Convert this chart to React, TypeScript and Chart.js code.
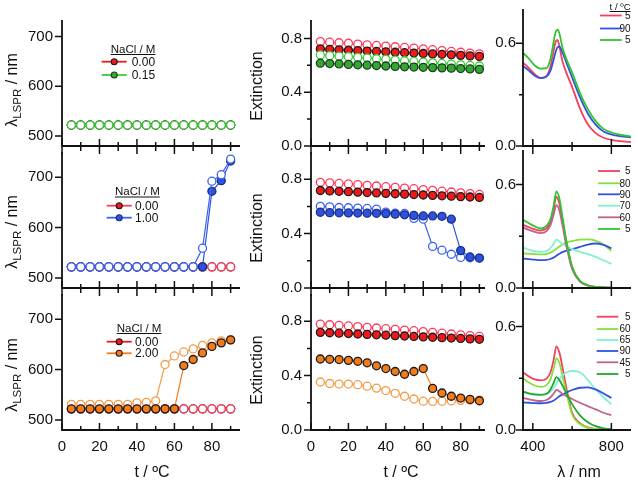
import React, { useEffect, useRef } from 'react';
import { Chart, registerables } from 'chart.js';

Chart.register(...registerables);

const FONT = "'Liberation Sans', Arial, Helvetica, sans-serif";
const INK = '#111111';

// ---------- temperatures (°C)
const TEMPS = [5, 10, 15, 20, 25, 30, 35, 40, 45, 50, 55, 60, 65, 70, 75, 80, 85, 90];

// ---------- λLSPR (nm), row A: 0.00 / 0.15 M NaCl
const LSPR_A_REF_FILLED = [522, 522, 522, 522, 522, 522, 522, 522, 522, 522, 522, 522, 522, 522, 522, 522, 522, 522];
const LSPR_A_REF_OPEN = [522, 522, 522, 522, 522, 522, 522, 522, 522, 522, 522, 522, 522, 522, 522, 522, 522, 522];
const LSPR_A_SALT_FILLED = [522, 522, 522, 522, 522, 522, 522, 522, 522, 522, 522, 522, 522, 522, 522, 522, 522, 522];
const LSPR_A_SALT_OPEN = [522, 522, 522, 522, 522, 522, 522, 522, 522, 522, 522, 522, 522, 522, 522, 522, 522, 522];
// row B: 0.00 / 1.00 M
const LSPR_B_REF_FILLED = [522, 522, 522, 522, 522, 522, 522, 522, 522, 522, 522, 522, 522, 522, 522, 522, 522, 522];
const LSPR_B_REF_OPEN = [522, 522, 522, 522, 522, 522, 522, 522, 522, 522, 522, 522, 522, 522, 522, 522, 522, 522];
const LSPR_B_SALT_FILLED = [522, 522, 522, 522, 522, 522, 522, 522, 522, 522, 522, 522, 522, 522, 522, 672, 693, 732];
const LSPR_B_SALT_OPEN = [522, 522, 522, 522, 522, 522, 522, 522, 522, 522, 522, 522, 522, 522, 559, 692, 705, 736];
// row C: 0.00 / 2.00 M
const LSPR_C_REF_FILLED = [522, 522, 522, 522, 522, 522, 522, 522, 522, 522, 522, 522, 522, 522, 522, 522, 522, 522];
const LSPR_C_REF_OPEN = [522, 522, 522, 522, 522, 522, 522, 522, 522, 522, 522, 522, 522, 522, 522, 522, 522, 522];
const LSPR_C_SALT_FILLED = [522, 522, 522, 522, 522, 522, 522, 522, 522, 522, 522, 522, 608, 620, 633, 646, 653, 659];
const LSPR_C_SALT_OPEN = [531, 531, 531, 531, 531, 531, 531, 534, 535, 538, 610, 627, 635, 641, 648, 653, 657, 659];

// ---------- Extinction
const EXT_A_REF_OPEN = [0.776, 0.772, 0.768, 0.764, 0.758, 0.752, 0.748, 0.743, 0.738, 0.733, 0.728, 0.722, 0.716, 0.71, 0.703, 0.697, 0.691, 0.685];
const EXT_A_REF_FILLED = [0.722, 0.718, 0.715, 0.712, 0.709, 0.706, 0.703, 0.7, 0.697, 0.694, 0.691, 0.688, 0.685, 0.682, 0.678, 0.674, 0.67, 0.666];
const EXT_A_SALT_OPEN = [0.677, 0.672, 0.668, 0.664, 0.659, 0.654, 0.649, 0.644, 0.639, 0.634, 0.629, 0.624, 0.619, 0.614, 0.609, 0.604, 0.599, 0.595];
const EXT_A_SALT_FILLED = [0.616, 0.613, 0.61, 0.607, 0.604, 0.601, 0.598, 0.595, 0.592, 0.589, 0.587, 0.585, 0.583, 0.581, 0.579, 0.576, 0.573, 0.57];

const EXT_B_REF_OPEN = [0.777, 0.773, 0.769, 0.765, 0.76, 0.755, 0.75, 0.745, 0.74, 0.735, 0.73, 0.724, 0.718, 0.712, 0.706, 0.7, 0.694, 0.688];
const EXT_B_REF_FILLED = [0.717, 0.714, 0.711, 0.708, 0.705, 0.702, 0.699, 0.696, 0.693, 0.69, 0.687, 0.684, 0.681, 0.678, 0.675, 0.672, 0.669, 0.666];
const EXT_B_SALT_OPEN = [0.6, 0.597, 0.592, 0.59, 0.588, 0.585, 0.58, 0.558, 0.55, 0.548, 0.512, 0.506, 0.306, 0.278, 0.248, 0.225, 0.222, 0.22];
const EXT_B_SALT_FILLED = [0.557, 0.554, 0.553, 0.552, 0.551, 0.55, 0.549, 0.547, 0.543, 0.538, 0.534, 0.53, 0.53, 0.527, 0.506, 0.275, 0.228, 0.22];

const EXT_C_REF_OPEN = [0.778, 0.774, 0.77, 0.765, 0.76, 0.755, 0.75, 0.745, 0.74, 0.735, 0.73, 0.724, 0.718, 0.712, 0.706, 0.7, 0.694, 0.688];
const EXT_C_REF_FILLED = [0.718, 0.715, 0.712, 0.709, 0.706, 0.703, 0.7, 0.697, 0.694, 0.691, 0.688, 0.685, 0.682, 0.679, 0.676, 0.673, 0.67, 0.667];
const EXT_C_SALT_OPEN = [0.353, 0.342, 0.338, 0.338, 0.333, 0.322, 0.308, 0.29, 0.27, 0.248, 0.228, 0.212, 0.21, 0.212, 0.215, 0.218, 0.22, 0.22];
const EXT_C_SALT_FILLED = [0.522, 0.52, 0.518, 0.512, 0.505, 0.494, 0.472, 0.452, 0.43, 0.41, 0.43, 0.452, 0.306, 0.272, 0.248, 0.235, 0.225, 0.215];

// ---------- spectra (λ in nm)
const WL_A = [350, 380, 410, 440, 470, 490, 505, 515, 525, 535, 550, 570, 600, 640, 680, 720, 760, 820, 900];
const SPEC_A_5 = [0.487, 0.455, 0.42, 0.398, 0.41, 0.465, 0.55, 0.605, 0.62, 0.585, 0.5, 0.43, 0.345, 0.22, 0.127, 0.075, 0.048, 0.032, 0.023];
const SPEC_A_90 = [0.468, 0.44, 0.41, 0.396, 0.405, 0.44, 0.5, 0.545, 0.575, 0.58, 0.55, 0.49, 0.4, 0.285, 0.19, 0.125, 0.085, 0.062, 0.05];
const SPEC_A_5B = [0.544, 0.51, 0.47, 0.452, 0.455, 0.51, 0.6, 0.66, 0.68, 0.66, 0.58, 0.51, 0.43, 0.31, 0.215, 0.145, 0.1, 0.072, 0.055];

const WL_BC = [350, 380, 410, 440, 470, 490, 505, 520, 535, 550, 570, 600, 640, 680, 720, 760, 800];
const SPEC_B_5 = [0.366, 0.352, 0.34, 0.333, 0.345, 0.385, 0.45, 0.53, 0.49, 0.4, 0.27, 0.12, 0.04, 0.015, 0.007, 0.003, 0.002];
const SPEC_B_80 = [0.2, 0.198, 0.196, 0.195, 0.198, 0.205, 0.215, 0.228, 0.24, 0.252, 0.263, 0.272, 0.28, 0.282, 0.275, 0.252, 0.215];
const SPEC_B_90 = [0.17, 0.167, 0.164, 0.162, 0.163, 0.168, 0.176, 0.187, 0.198, 0.208, 0.216, 0.225, 0.238, 0.252, 0.258, 0.25, 0.23];
const SPEC_B_70 = [0.235, 0.222, 0.213, 0.21, 0.214, 0.232, 0.255, 0.28, 0.27, 0.255, 0.243, 0.225, 0.21, 0.196, 0.18, 0.16, 0.14];
const SPEC_B_60 = [0.35, 0.337, 0.325, 0.318, 0.33, 0.365, 0.42, 0.48, 0.45, 0.37, 0.25, 0.11, 0.037, 0.014, 0.006, 0.003, 0.002];
const SPEC_B_5B = [0.395, 0.375, 0.357, 0.345, 0.36, 0.4, 0.47, 0.56, 0.52, 0.42, 0.28, 0.125, 0.042, 0.016, 0.007, 0.003, 0.002];

const SPEC_C_5 = [0.334, 0.31, 0.293, 0.288, 0.298, 0.335, 0.4, 0.485, 0.45, 0.37, 0.25, 0.1, 0.04, 0.015, 0.007, 0.003, 0.002];
const SPEC_C_60 = [0.3, 0.275, 0.258, 0.25, 0.26, 0.295, 0.35, 0.415, 0.39, 0.32, 0.22, 0.09, 0.035, 0.012, 0.006, 0.003, 0.001];
const SPEC_C_65 = [0.22, 0.21, 0.205, 0.205, 0.21, 0.222, 0.24, 0.27, 0.295, 0.315, 0.333, 0.342, 0.335, 0.29, 0.235, 0.19, 0.15];
const SPEC_C_90 = [0.16, 0.158, 0.156, 0.155, 0.157, 0.163, 0.17, 0.182, 0.195, 0.205, 0.217, 0.232, 0.245, 0.247, 0.235, 0.212, 0.186];
const SPEC_C_45 = [0.186, 0.178, 0.171, 0.168, 0.174, 0.19, 0.21, 0.232, 0.225, 0.21, 0.198, 0.18, 0.158, 0.138, 0.12, 0.1, 0.087];
const SPEC_C_5B = [0.223, 0.213, 0.206, 0.204, 0.21, 0.235, 0.27, 0.306, 0.29, 0.26, 0.215, 0.15, 0.085, 0.045, 0.022, 0.01, 0.005];

// ---------- tick labels
const T_LABELS = [0, 20, 40, 60, 80];
const T_MINOR = [10, 30, 50, 70, 90];
const LSPR_LABELS = [500, 600, 700];
const EXT_LABELS = [0, 0.4, 0.8];
const EXT_MINOR = [0.2, 0.6];
const WL_LABELS = [400, 800];
const WL_MINOR = [600];
const SPEC_LABELS = [0, 0.6];
const SPEC_MINOR = [0.3];

// ---------- colours
const RED_FILL = '#ee1a1a';
const RED_OPEN = '#ff3b5c';
const GREEN_FILL = '#35a535';
const GREEN_OPEN = '#3ccc3c';
const BLUE_FILL = '#2f52dc';
const BLUE_OPEN = '#3d62f2';
const ORANGE_FILL = '#f07c1c';
const ORANGE_OPEN = '#f49b48';
const EDGE = '#1a1a1a';
const SP_RED = '#f2405e';
const SP_BLUE = '#3152e0';
const SP_GREEN = '#2fc52f';
const SP_LGREEN = '#86e03c';
const SP_CYAN = '#82f0d4';
const SP_MAUVE = '#c0628a';
const SP_DGREEN = '#22a82a';

const PAD_L = 64, PAD_T = 12, PAD_R = 10, PAD_B = 52;

const pts = (xs: number[], ys: number[]) => xs.map((x, i) => ({ x, y: ys[i] }));

function marked(xs: number[], ys: number[], color: string, filled: boolean, edge: string = EDGE) {
  return {
    data: pts(xs, ys),
    borderColor: color,
    borderWidth: 1.2,
    pointRadius: 4,
    pointBorderWidth: 1.3,
    pointBackgroundColor: filled ? color : '#ffffff',
    pointBorderColor: filled ? edge : color,
    tension: 0,
    clip: false,
  };
}

function curve(xs: number[], ys: number[], color: string) {
  return {
    data: pts(xs, ys),
    borderColor: color,
    borderWidth: 1.8,
    pointRadius: 0,
    cubicInterpolationMode: 'monotone',
    fill: false,
    clip: false,
  };
}

// ---------- text helpers
function txt(ctx: CanvasRenderingContext2D, s: string, x: number, y: number, size: number, align: CanvasTextAlign = 'left', baseline: CanvasTextBaseline = 'alphabetic') {
  ctx.font = `${size}px ${FONT}`;
  ctx.fillStyle = INK;
  ctx.textAlign = align;
  ctx.textBaseline = baseline;
  ctx.fillText(s, x, y);
}

function vtxt(ctx: CanvasRenderingContext2D, s: string, baseX: number, cy: number, size: number) {
  ctx.save();
  ctx.translate(baseX, cy);
  ctx.rotate(-Math.PI / 2);
  txt(ctx, s, 0, 0, size, 'center');
  ctx.restore();
}

function lsprTitle(ctx: CanvasRenderingContext2D, baseX: number, cy: number) {
  ctx.save();
  ctx.translate(baseX, cy);
  ctx.rotate(-Math.PI / 2);
  const main = `16px ${FONT}`;
  const sub = `11.5px ${FONT}`;
  ctx.font = main;
  const w1 = ctx.measureText('λ').width;
  const w3 = ctx.measureText(' / nm').width;
  ctx.font = sub;
  const w2 = ctx.measureText('LSPR').width;
  let x = -(w1 + w2 + w3) / 2;
  ctx.fillStyle = INK;
  ctx.textAlign = 'left';
  ctx.textBaseline = 'alphabetic';
  ctx.font = main; ctx.fillText('λ', x, 0); x += w1;
  ctx.font = sub; ctx.fillText('LSPR', x, 4); x += w2;
  ctx.font = main; ctx.fillText(' / nm', x, 0);
  ctx.restore();
}

function underlined(ctx: CanvasRenderingContext2D, s: string, x: number, y: number, size: number, align: CanvasTextAlign) {
  txt(ctx, s, x, y, size, align);
  const w = ctx.measureText(s).width;
  const x0 = align === 'right' ? x - w : x;
  ctx.strokeStyle = INK;
  ctx.lineWidth = 1;
  ctx.beginPath();
  ctx.moveTo(x0, y + 2);
  ctx.lineTo(x0 + w, y + 2);
  ctx.stroke();
}

function legLine(ctx: CanvasRenderingContext2D, x1: number, x2: number, y: number, color: string, lw: number, marker?: { fill: string; edge: string }) {
  ctx.strokeStyle = color;
  ctx.lineWidth = lw;
  ctx.beginPath();
  ctx.moveTo(x1, y);
  ctx.lineTo(x2, y);
  ctx.stroke();
  if (marker) {
    ctx.beginPath();
    ctx.arc((x1 + x2) / 2, y, 3, 0, Math.PI * 2);
    ctx.fillStyle = marker.fill;
    ctx.fill();
    ctx.strokeStyle = marker.edge;
    ctx.lineWidth = 1.1;
    ctx.stroke();
  }
}

function saltLegend(ctx: CanvasRenderingContext2D, tx: number, ty: number, lx1: number, lx2: number, lblX: number, y1: number, y2: number,
  c1: string, m1: string, label2: string, c2: string, m2: string, e2: string) {
  underlined(ctx, 'NaCl / M', tx, ty, 11.5, 'left');
  legLine(ctx, lx1, lx2, y1, c1, 1.8, { fill: m1, edge: EDGE });
  txt(ctx, '0.00', lblX, y1 + 0.5, 12, 'left', 'middle');
  legLine(ctx, lx1, lx2, y2, c2, 1.8, { fill: m2, edge: e2 });
  txt(ctx, label2, lblX, y2 + 0.5, 12, 'left', 'middle');
}

function specLegend(ctx: CanvasRenderingContext2D, lx1: number, lx2: number, ys: number[], colors: string[], labels: string[]) {
  ys.forEach((y, i) => {
    legLine(ctx, lx1, lx2, y, colors[i], 1.8);
    txt(ctx, labels[i], 630.5, y + 0.5, 10, 'right', 'middle');
  });
}

type Spec = {
  key: string;
  left: number; top: number; right: number; bottom: number;
  xMin: number; xMax: number; yMin: number; yMax: number;
  xLabels: number[]; yLabels: number[]; showX: boolean;
  xMinor: number[]; yMinor: number[];
  yDecimals: number; yPad: number;
  datasets: any[]; // listed bottom-most first
  decorate: (ctx: CanvasRenderingContext2D) => void;
};

function Panel({ spec }: { spec: Spec }) {
  const ref = useRef<HTMLCanvasElement | null>(null);
  const cl = spec.left - PAD_L;
  const ct = spec.top - PAD_T;
  const w = spec.right - spec.left + PAD_L + PAD_R;
  const h = spec.bottom - spec.top + PAD_T + PAD_B;

  useEffect(() => {
    const canvas = ref.current;
    if (!canvas) return;
    const deco = {
      id: 'deco_' + spec.key,
      afterDraw(chart: any) {
        const ctx = chart.ctx as CanvasRenderingContext2D;
        const a = chart.chartArea;
        const xs = chart.scales.x;
        const ys = chart.scales.y;
        ctx.save();
        ctx.strokeStyle = INK;
        ctx.lineWidth = 1.8;
        ctx.beginPath();
        ctx.moveTo(a.left, a.top);
        ctx.lineTo(a.left, a.bottom);
        ctx.moveTo(a.left - 0.9, a.bottom);
        ctx.lineTo(a.right, a.bottom);
        ctx.stroke();
        ctx.lineWidth = 1.5;
        ctx.beginPath();
        for (const v of spec.yLabels) { const p = ys.getPixelForValue(v); ctx.moveTo(a.left - 7, p); ctx.lineTo(a.left, p); }
        for (const v of spec.yMinor) { const p = ys.getPixelForValue(v); ctx.moveTo(a.left - 4, p); ctx.lineTo(a.left, p); }
        const below = spec.showX ? 0 : 8;
        for (const v of spec.xLabels) { const p = xs.getPixelForValue(v); ctx.moveTo(p, a.bottom - 7); ctx.lineTo(p, a.bottom + below); }
        for (const v of spec.xMinor) { const p = xs.getPixelForValue(v); ctx.moveTo(p, a.bottom - 4); ctx.lineTo(p, a.bottom + (spec.showX ? 0 : 5)); }
        ctx.stroke();
        ctx.translate(-cl, -ct);
        spec.decorate(ctx);
        ctx.restore();
      },
    };
    // Chart.js paints dataset 0 last (on top) by default: give explicit order so the
    // listing order is bottom-most first.
    const n = spec.datasets.length;
    const datasets = spec.datasets.map((d, i) => ({ ...d, order: n - i }));
    const chart = new Chart(canvas, {
      type: 'line',
      data: { datasets },
      options: {
        animation: false,
        responsive: false,
        events: [],
        layout: { padding: { left: 0, top: PAD_T, right: PAD_R, bottom: 0 } },
        plugins: { legend: { display: false }, tooltip: { enabled: false } },
        scales: {
          x: {
            type: 'linear',
            min: spec.xMin,
            max: spec.xMax,
            grid: { display: false, drawTicks: false },
            border: { display: false },
            ticks: {
              display: spec.showX,
              color: INK,
              font: { family: FONT, size: 15 },
              padding: 8,
              autoSkip: false,
              maxRotation: 0,
              callback: (v: any) => String(v),
            },
            afterBuildTicks: (s: any) => { s.ticks = spec.xLabels.map((v) => ({ value: v })); },
            afterFit: (s: any) => { s.height = PAD_B; },
          },
          y: {
            type: 'linear',
            min: spec.yMin,
            max: spec.yMax,
            grid: { display: false, drawTicks: false },
            border: { display: false },
            ticks: {
              color: INK,
              font: { family: FONT, size: 15 },
              padding: spec.yPad,
              autoSkip: false,
              callback: (v: any) => Number(v).toFixed(spec.yDecimals),
            },
            afterBuildTicks: (s: any) => { s.ticks = spec.yLabels.map((v) => ({ value: v })); },
            afterFit: (s: any) => { s.width = PAD_L; },
          },
        },
      },
      plugins: [deco],
    } as any);
    return () => chart.destroy();
  }, []);

  return (
    <canvas
      ref={ref}
      width={w}
      height={h}
      style={{ position: 'absolute', left: cl, top: ct, width: w, height: h }}
    />
  );
}

const COL = [
  { left: 62, right: 240, xMin: 0, xMax: 95 },
  { left: 311, right: 485, xMin: 0, xMax: 93 },
  { left: 523, right: 631, xMin: 350, xMax: 900 },
];
const ROW = [
  { top: 14, bottom: 146 },
  { top: 146, bottom: 288 },
  { top: 288, bottom: 430 },
];

function buildSpecs(): Spec[] {
  const specs: Spec[] = [];
  const leftBase = (r: number) => ({
    left: COL[0].left, right: COL[0].right, xMin: COL[0].xMin, xMax: COL[0].xMax,
    top: ROW[r].top, bottom: ROW[r].bottom,
    yMin: 480, yMax: r === 0 ? 733 : 750,
    xLabels: T_LABELS, xMinor: T_MINOR, yLabels: LSPR_LABELS, yMinor: [] as number[],
    yDecimals: 0, yPad: 9, showX: r === 2,
  });
  const midBase = (r: number) => ({
    left: COL[1].left, right: COL[1].right, xMin: COL[1].xMin, xMax: COL[1].xMax,
    top: ROW[r].top, bottom: ROW[r].bottom,
    yMin: 0, yMax: r === 0 ? 0.937 : 1.0,
    xLabels: T_LABELS, xMinor: T_MINOR, yLabels: EXT_LABELS, yMinor: EXT_MINOR,
    yDecimals: 1, yPad: 9, showX: r === 2,
  });
  const rightBase = (r: number) => ({
    left: COL[2].left, right: COL[2].right, xMin: COL[2].xMin, xMax: COL[2].xMax,
    top: r === 0 ? 5 : ROW[r].top, bottom: ROW[r].bottom,
    yMin: 0, yMax: 0.8,
    xLabels: WL_LABELS, xMinor: WL_MINOR, yLabels: SPEC_LABELS, yMinor: SPEC_MINOR,
    yDecimals: 1, yPad: 7, showX: r === 2,
  });
  const lsprY = [90, 232, 375];
  const extY = [86, 228, 370];

  // ---- left column
  specs.push({
    key: 'l0', ...leftBase(0),
    datasets: [
      marked(TEMPS, LSPR_A_REF_FILLED, RED_FILL, true),
      marked(TEMPS, LSPR_A_REF_OPEN, RED_OPEN, false),
      marked(TEMPS, LSPR_A_SALT_FILLED, GREEN_FILL, true, '#183f18'),
      marked(TEMPS, LSPR_A_SALT_OPEN, GREEN_OPEN, false),
    ],
    decorate: (ctx) => {
      lsprTitle(ctx, 17, lsprY[0]);
      saltLegend(ctx, 110.7, 52.5, 101.7, 126.7, 131.7, 61.7, 75, RED_FILL, RED_FILL, '0.15', GREEN_OPEN, GREEN_FILL, '#183f18');
    },
  });
  specs.push({
    key: 'l1', ...leftBase(1),
    datasets: [
      marked(TEMPS, LSPR_B_REF_FILLED, RED_FILL, true),
      marked(TEMPS, LSPR_B_REF_OPEN, RED_OPEN, false),
      marked(TEMPS, LSPR_B_SALT_FILLED, BLUE_FILL, true, '#1b2d86'),
      marked(TEMPS, LSPR_B_SALT_OPEN, BLUE_OPEN, false),
    ],
    decorate: (ctx) => {
      lsprTitle(ctx, 17, lsprY[1]);
      saltLegend(ctx, 115, 195, 106.7, 131.7, 135, 205.7, 217.7, RED_OPEN, RED_FILL, '1.00', BLUE_OPEN, BLUE_FILL, '#1b2d86');
    },
  });
  specs.push({
    key: 'l2', ...leftBase(2),
    datasets: [
      marked(TEMPS, LSPR_C_REF_FILLED, RED_FILL, true),
      marked(TEMPS, LSPR_C_REF_OPEN, RED_OPEN, false),
      marked(TEMPS, LSPR_C_SALT_OPEN, ORANGE_OPEN, false),
      marked(TEMPS, LSPR_C_SALT_FILLED, ORANGE_FILL, true),
    ],
    decorate: (ctx) => {
      lsprTitle(ctx, 17, lsprY[2]);
      saltLegend(ctx, 116.7, 331.5, 106.7, 131.7, 135, 341.7, 353.3, RED_FILL, RED_FILL, '2.00', ORANGE_FILL, ORANGE_FILL, EDGE);
      txt(ctx, 't / ºC', 152, 477, 16, 'center');
    },
  });

  // ---- middle column
  specs.push({
    key: 'm0', ...midBase(0),
    datasets: [
      marked(TEMPS, EXT_A_REF_OPEN, RED_OPEN, false),
      marked(TEMPS, EXT_A_REF_FILLED, RED_FILL, true),
      marked(TEMPS, EXT_A_SALT_OPEN, GREEN_OPEN, false),
      marked(TEMPS, EXT_A_SALT_FILLED, GREEN_FILL, true, '#183f18'),
    ],
    decorate: (ctx) => vtxt(ctx, 'Extinction', 262, extY[0], 16),
  });
  specs.push({
    key: 'm1', ...midBase(1),
    datasets: [
      marked(TEMPS, EXT_B_REF_OPEN, RED_OPEN, false),
      marked(TEMPS, EXT_B_REF_FILLED, RED_FILL, true),
      marked(TEMPS, EXT_B_SALT_OPEN, BLUE_OPEN, false),
      marked(TEMPS, EXT_B_SALT_FILLED, BLUE_FILL, true, '#1b2d86'),
    ],
    decorate: (ctx) => vtxt(ctx, 'Extinction', 262, extY[1], 16),
  });
  specs.push({
    key: 'm2', ...midBase(2),
    datasets: [
      marked(TEMPS, EXT_C_REF_OPEN, RED_OPEN, false),
      marked(TEMPS, EXT_C_REF_FILLED, RED_FILL, true),
      marked(TEMPS, EXT_C_SALT_OPEN, ORANGE_OPEN, false),
      marked(TEMPS, EXT_C_SALT_FILLED, ORANGE_FILL, true),
    ],
    decorate: (ctx) => {
      vtxt(ctx, 'Extinction', 262, extY[2], 16);
      txt(ctx, 't / ºC', 401, 477, 16, 'center');
    },
  });

  // ---- right column
  specs.push({
    key: 'r0', ...rightBase(0),
    datasets: [
      curve(WL_A, SPEC_A_5, SP_RED),
      curve(WL_A, SPEC_A_90, SP_BLUE),
      curve(WL_A, SPEC_A_5B, SP_GREEN),
    ],
    decorate: (ctx) => {
      underlined(ctx, 't / ºC', 630.5, 9.5, 9.5, 'right');
      specLegend(ctx, 600, 621.7, [15.5, 28.5, 40], [SP_RED, SP_BLUE, SP_GREEN], ['5', '90', '5']);
    },
  });
  specs.push({
    key: 'r1', ...rightBase(1),
    datasets: [
      curve(WL_BC, SPEC_B_5, SP_RED),
      curve(WL_BC, SPEC_B_80, SP_LGREEN),
      curve(WL_BC, SPEC_B_90, SP_BLUE),
      curve(WL_BC, SPEC_B_70, SP_CYAN),
      curve(WL_BC, SPEC_B_60, SP_MAUVE),
      curve(WL_BC, SPEC_B_5B, SP_GREEN),
    ],
    decorate: (ctx) => {
      specLegend(ctx, 598, 620, [171, 183.3, 194.3, 205.7, 217.3, 229],
        [SP_RED, SP_LGREEN, SP_BLUE, SP_CYAN, SP_MAUVE, SP_GREEN], ['5', '80', '90', '70', '60', '5']);
    },
  });
  specs.push({
    key: 'r2', ...rightBase(2),
    datasets: [
      curve(WL_BC, SPEC_C_5, SP_RED),
      curve(WL_BC, SPEC_C_60, SP_LGREEN),
      curve(WL_BC, SPEC_C_65, SP_CYAN),
      curve(WL_BC, SPEC_C_90, SP_BLUE),
      curve(WL_BC, SPEC_C_45, SP_MAUVE),
      curve(WL_BC, SPEC_C_5B, SP_DGREEN),
    ],
    decorate: (ctx) => {
      specLegend(ctx, 596.7, 618.3, [316.7, 329, 340, 351, 362.3, 374],
        [SP_RED, SP_LGREEN, SP_CYAN, SP_BLUE, SP_MAUVE, SP_DGREEN], ['5', '60', '65', '90', '45', '5']);
      txt(ctx, 'λ / nm', 579, 477, 16, 'center');
    },
  });
  return specs;
}

export default function App() {
  const specs = buildSpecs();
  return (
    <div style={{ position: 'absolute', left: 0, top: 0, width: 638, height: 482, overflow: 'hidden', background: '#ffffff' }}>
      {specs.map((s) => (
        <Panel key={s.key} spec={s} />
      ))}
    </div>
  );
}
